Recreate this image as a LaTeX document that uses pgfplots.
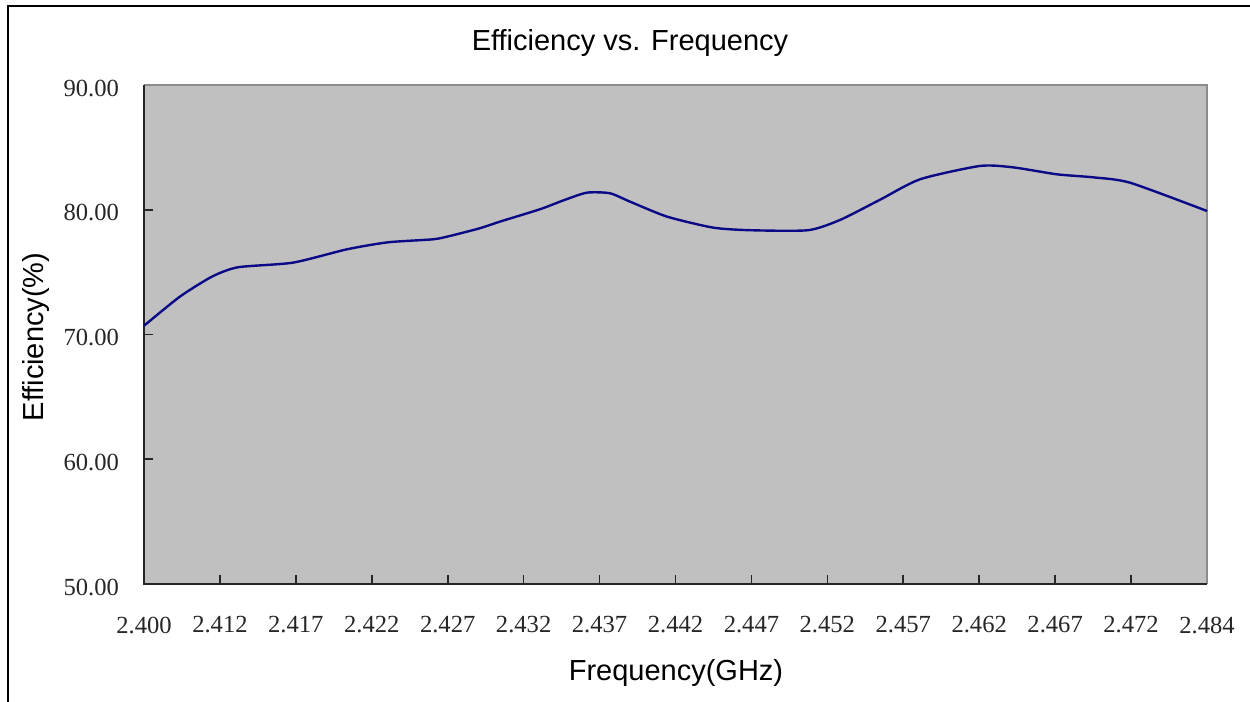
\documentclass[border=0pt]{standalone}
\usepackage{fontspec}
\setmainfont{Liberation Serif}
\newfontfamily\arialf{Liberation Sans}
\usepackage{pgfplots}
\pgfplotsset{compat=1.18}
\definecolor{plotbg}{RGB}{192,192,192}
\definecolor{navyline}{RGB}{10,10,135}
\definecolor{boxgray}{RGB}{140,140,140}
\begin{document}
\begin{tikzpicture}[x=1pt,y=1pt]
\useasboundingbox (-72,-59) rectangle (553,292);
\begin{axis}[at={(0,0)}, anchor=south west, scale only axis,
  width=531.5pt, height=249.5pt,
  xmin=0, xmax=14, ymin=50, ymax=90,
  axis background/.style={fill=plotbg},
  axis line style={draw=none},
  xtick={0,...,14},
  xticklabels={2.400,2.412,2.417,2.422,2.427,2.432,2.437,2.442,2.447,2.452,2.457,2.462,2.467,2.472,2.484},
  ytick={50,60,70,80,90},
  yticklabels={50.00,60.00,70.00,80.00,90.00},
  xtick pos=left, ytick pos=left,
  tick align=inside, major tick length=4.5pt,
  tick style={color=black!85, line width=0.8pt},
  ticklabel style={font=\fontsize{12.3}{14}\selectfont, text=black!85},
  xticklabel style={yshift=-12.8pt},
  yticklabel style={xshift=-9pt, yshift=-1.5pt},
  clip=false,
]
\draw[boxgray, line width=0.8pt] (rel axis cs:0,1) -- (rel axis cs:1,1) -- (rel axis cs:1,0);
\draw[black!85, line width=0.8pt] (rel axis cs:0,1) -- (rel axis cs:0,0) -- (rel axis cs:1,0);
\addplot[navyline, line width=1.2pt, smooth, tension=0.4] coordinates {
(0,70.70) (0.474,73.04) (0.896,74.64) (1.238,75.39) (1.962,75.76) (2.674,76.83)
(3.213,77.39) (3.806,77.63) (4.030,77.90) (4.425,78.52) (4.689,79.05) (5.215,80.04)
(5.545,80.80) (5.834,81.37) (6.137,81.32) (6.401,80.65) (6.888,79.45) (7.494,78.57)
(7.981,78.36) (8.745,78.36) (9.166,79.18) (9.693,80.80) (10.220,82.44) (11.010,83.51)
(11.445,83.40) (12.024,82.84) (12.498,82.60) (12.986,82.17) (14.0,79.90)
};
\end{axis}
\draw[black, line width=1pt] (-68,-59) -- (-68,289) -- (553,289);
\node[font=\arialf\fontsize{14.5}{17}\selectfont] at (243,270.5) {Efficiency vs. Frequency};
\node[font=\arialf\fontsize{14.5}{17}\selectfont] at (266,-44.5) {Frequency(GHz)};
\node[font=\arialf\fontsize{14.5}{17}\selectfont, rotate=90] at (-54,123.5) {Efficiency(\%)};
\end{tikzpicture}
\end{document}
